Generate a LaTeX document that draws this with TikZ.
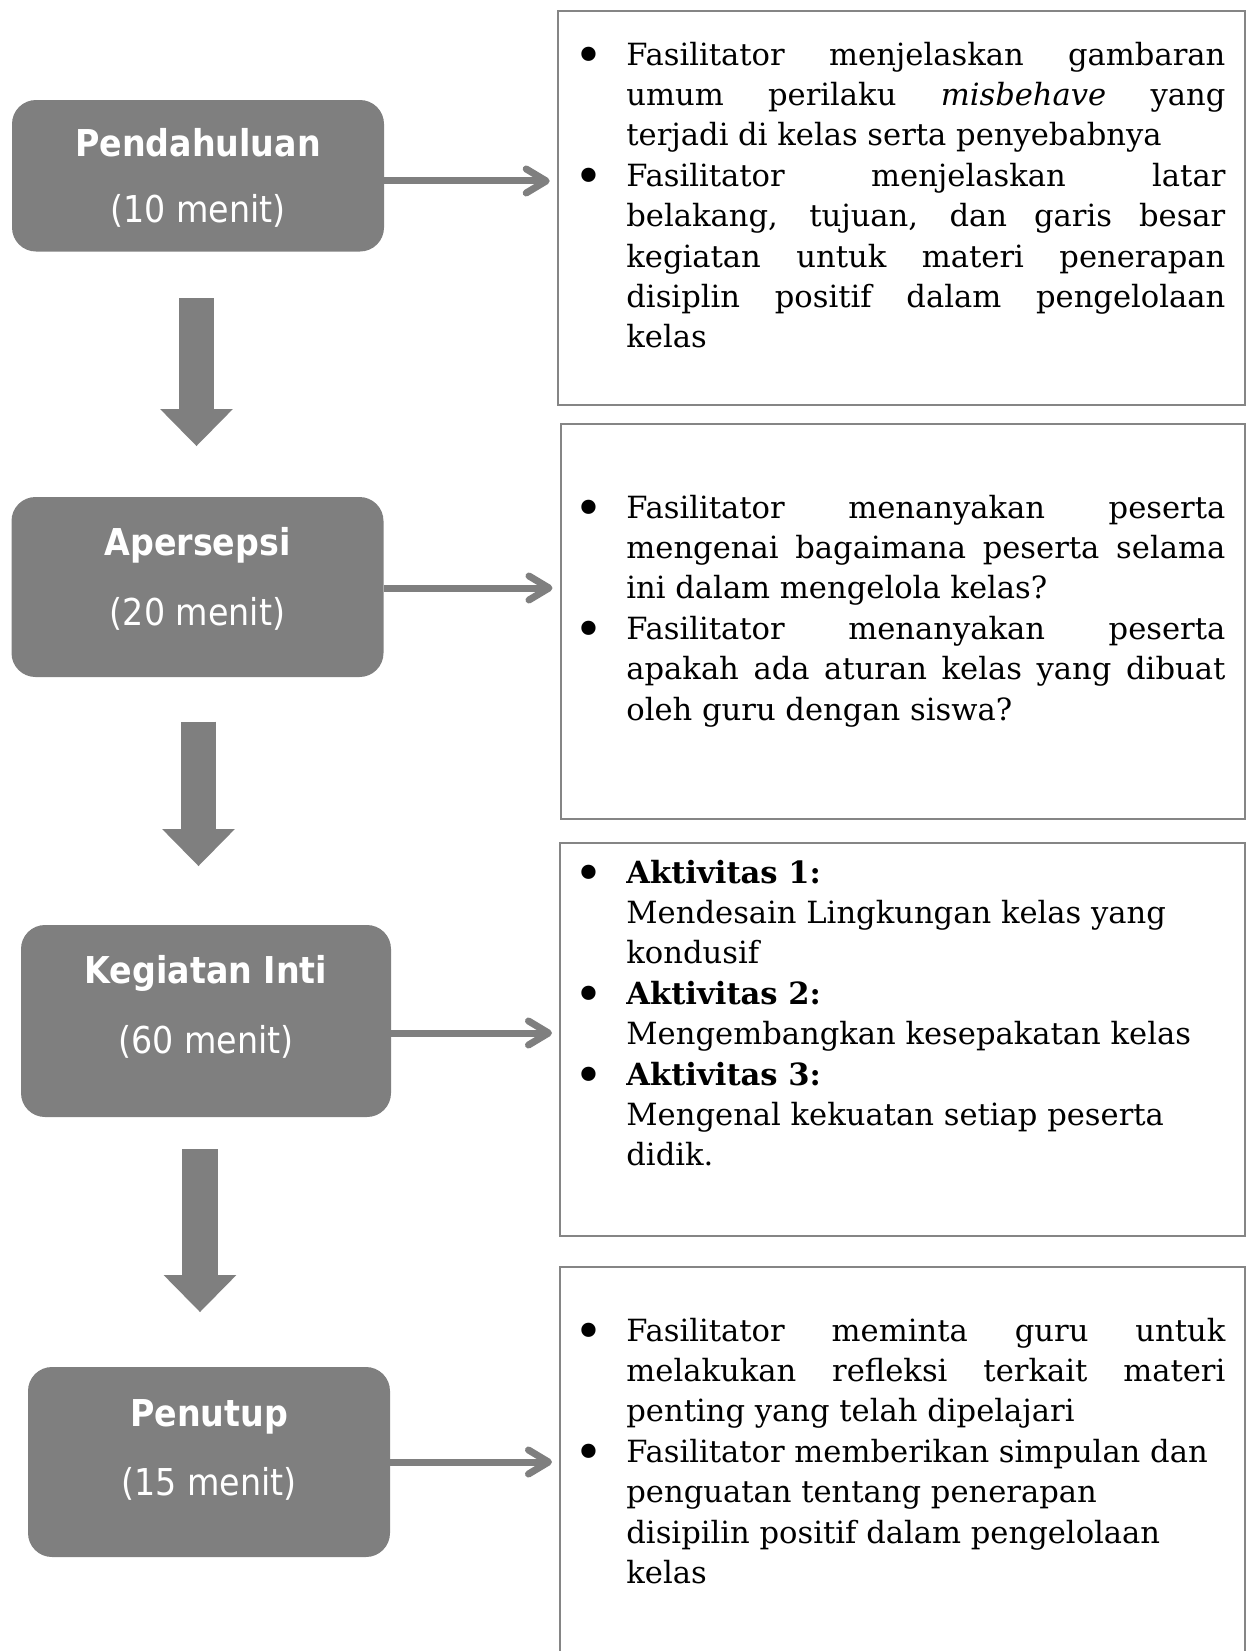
\documentclass[tikz,border=0pt]{standalone}
\usepackage{fontspec}
\setmainfont{DejaVu Serif}
\newfontfamily\condfont{DejaVu Sans Condensed}[BoldFont={DejaVu Sans Condensed Bold}]
\usetikzlibrary{arrows.meta}

\definecolor{boxgray}{HTML}{7F7F7F}
\definecolor{linegray}{HTML}{858585}

\newlength\actwd
\setlength\actwd{299.5pt}
\newcommand\jline[1]{\makebox[\actwd][s]{#1}}
\newcommand\bitem{\makebox[26pt][l]{\raisebox{-3.8pt}{\scalebox{1.6}{\textbullet}}}}
\newcommand\bskip{\hspace*{26pt}}
\newcommand\actlines[1]{\parbox[t]{345pt}{\setlength\baselineskip{20.2pt}#1}}

\tikzset{
  stage/.style={fill=boxgray, rounded corners=12pt, inner sep=0pt},
  stagetitle/.style={text=white, anchor=base, inner sep=0pt, font=\condfont\bfseries\fontsize{18.5}{21}\selectfont},
  stagetime/.style={text=white, anchor=base, inner sep=0pt, font=\condfont\fontsize{18.5}{21}\selectfont},
  actbox/.style={draw=linegray, line width=1.2pt, inner sep=0pt, anchor=north west},
  acttext/.style={anchor=base west, inner sep=0pt, font=\fontsize{15.3}{20.2}\selectfont},
  flowdown/.style={boxgray, line width=17.8pt, -{Triangle[length=18.5pt, width=36.4pt, line width=0pt]}},
  flowright/.style={boxgray, line width=3.5pt, shorten >=3.5pt, -{Straight Barb[length=10pt, width=12pt, round]}},
}

\begin{document}
\begin{tikzpicture}[x=0.5pt, y=-0.5pt]
\useasboundingbox (0,0) rectangle (1247,1651);

% stages on the left
\node[stage, minimum width=186pt, minimum height=75.75pt] (pend) at (198,175.75) {};
\node[stagetitle] (pendt) at (198,156) {Pendahuluan};
\node[stagetime] (pendm) at (198,222) {(10 menit)};

\node[stage, minimum width=186pt, minimum height=90pt] (aper) at (197.5,587) {};
\node[stagetitle] (apert) at (197.5,555) {Apersepsi};
\node[stagetime] (aperm) at (197.5,625) {(20 menit)};

\node[stage, minimum width=185pt, minimum height=96pt] (inti) at (206,1021) {};
\node[stagetitle] (intit) at (206,983) {Kegiatan Inti};
\node[stagetime] (intim) at (206,1053) {(60 menit)};

\node[stage, minimum width=181pt, minimum height=95pt] (tutup) at (209,1462) {};
\node[stagetitle] (tutupt) at (209,1426) {Penutup};
\node[stagetime] (tutupm) at (209,1495) {(15 menit)};

% block arrows between the stages
\coordinate (d1a) at (196.5,298);
\coordinate (d1b) at (196.5,446);
\coordinate (d2a) at (198.5,721.5);
\coordinate (d2b) at (198.5,866);
\coordinate (d3a) at (200,1149);
\coordinate (d3b) at (200,1312);
\draw[flowdown] (d1a) -- (d1b);
\draw[flowdown] (d2a) -- (d2b);
\draw[flowdown] (d3a) -- (d3b);

% activity boxes on the right
\node[actbox, minimum width=343.6pt, minimum height=197pt] (act1) at (556.7,10) {};
\node[actbox, minimum width=342.2pt, minimum height=197.5pt] (act2) at (559.5,423) {};
\node[actbox, minimum width=342.5pt, minimum height=196.5pt] (act3) at (559,842) {};
\node[actbox, minimum width=342.5pt, minimum height=230pt] (act4) at (559,1266) {};

\node[acttext] (act1t) at (574,65) {\actlines{%
\bitem\jline{Fasilitator menjelaskan gambaran}\\
\bskip\jline{umum perilaku \textit{misbehave} yang}\\
\bskip terjadi di kelas serta penyebabnya\\
\bitem\jline{Fasilitator menjelaskan latar}\\
\bskip\jline{belakang, tujuan, dan garis besar}\\
\bskip\jline{kegiatan untuk materi penerapan}\\
\bskip\jline{disiplin positif dalam pengelolaan}\\
\bskip kelas}};

\node[acttext] (act2t) at (574,518) {\actlines{%
\bitem\jline{Fasilitator menanyakan peserta}\\
\bskip\jline{mengenai bagaimana peserta selama}\\
\bskip ini dalam mengelola kelas?\\
\bitem\jline{Fasilitator menanyakan peserta}\\
\bskip\jline{apakah ada aturan kelas yang dibuat}\\
\bskip oleh guru dengan siswa?}};

\node[acttext] (act3t) at (574,883) {\actlines{%
\bitem\textbf{Aktivitas 1:}\\
\bskip Mendesain Lingkungan kelas yang\\
\bskip kondusif\\
\bitem\textbf{Aktivitas 2:}\\
\bskip Mengembangkan kesepakatan kelas\\
\bitem\textbf{Aktivitas 3:}\\
\bskip Mengenal kekuatan setiap peserta\\
\bskip didik.}};

\node[acttext] (act4t) at (574,1341) {\actlines{%
\bitem\jline{Fasilitator meminta guru untuk}\\
\bskip\jline{melakukan refleksi terkait materi}\\
\bskip penting yang telah dipelajari\\
\bitem Fasilitator memberikan simpulan dan\\
\bskip penguatan tentang penerapan\\
\bskip disipilin positif dalam pengelolaan\\
\bskip kelas}};

% arrows from the stages to their activities
\draw[flowright] ([yshift=-2.6pt]pend.east) coordinate (h1) -- (h1 -| act1.west);
\draw[flowright] ([yshift=-0.5pt]aper.east) coordinate (h2) -- (h2 -| act2.west);
\draw[flowright] ([yshift=-6pt]inti.east) coordinate (h3) -- (h3 -| act3.west);
\draw[flowright] (tutup.east) coordinate (h4) -- (h4 -| act4.west);
\end{tikzpicture}
\end{document}
